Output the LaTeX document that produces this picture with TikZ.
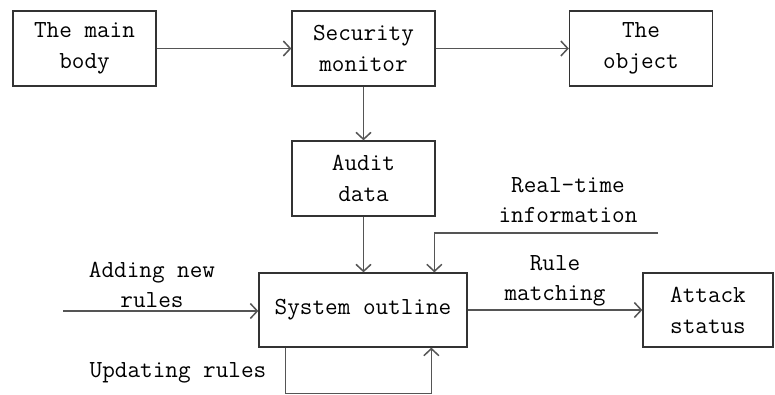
\documentclass[tikz,border=0pt]{standalone}
\usetikzlibrary{positioning, arrows.meta, calc}
\definecolor{boxline}{HTML}{333333}
\definecolor{flowline}{HTML}{555555}
\tikzset{
  block/.style = {rectangle, draw=boxline, line width=1.3pt, fill=white,
                  align=center, minimum width=143pt, minimum height=75pt,
                  inner sep=0pt, font=\ttfamily\fontsize{24.5}{31}\selectfont},
  lab/.style   = {align=center, inner sep=0pt,
                  font=\ttfamily\fontsize{24.5}{30}\selectfont},
  flow/.style  = {draw=flowline, line width=1.5pt,
                  -{Straight Barb[length=7pt, width=15pt, line width=1.5pt]}},
}

\begin{document}
\begin{tikzpicture}[x=1pt, y=-1pt]
\useasboundingbox (0,0) rectangle (775,394);

% Top row: subject, monitor, object
\node (body) [block] at (84.5,48.5) {The main\\body};
\node (mon)  [block] at (363.5,48.5) {Security\\monitor};
\node (obj)  [block] at (641,48.5) {The\\object};
\draw [flow] (body) -- (mon);
\draw [flow] (mon) -- (obj);

% Audit data feeds the system outline
\node (audit) [block] at (363.5,178.5) {Audit\\data};
\node (sys)   [block, minimum width=208pt, minimum height=74pt] at (363,310) {System outline};
\draw [flow] (mon) -- (audit);
\draw [flow] (audit) -- (sys.north -| audit);

% Outside inputs
\coordinate (rtin)  at (658,233);
\coordinate (addin) at (63,311);
\node (rtlab)  [lab] at (568,200) {Real-time\\information};
\node (addlab) [lab] at (152,285) {Adding new\\rules};
\draw [flow] (rtin) -| ($(sys.north west)+(176,0)$);
\draw [flow] (addin) -- (sys.west |- addin);

% Update loop under the box
\node (updlab) [lab] at (178,373) {Updating rules};
\draw [flow] ($(sys.south west)+(27,0)$) -- ++(0,46) -| ($(sys.south west)+(173,0)$);

% Result
\node (att) [block, minimum width=130pt, minimum height=74pt] at (708,310) {Attack\\status};
\node (mlab) [lab] at (555,281) {Rule\\matching};
\draw [flow] (sys.east |- att) -- (att);

\end{tikzpicture}
\end{document}
